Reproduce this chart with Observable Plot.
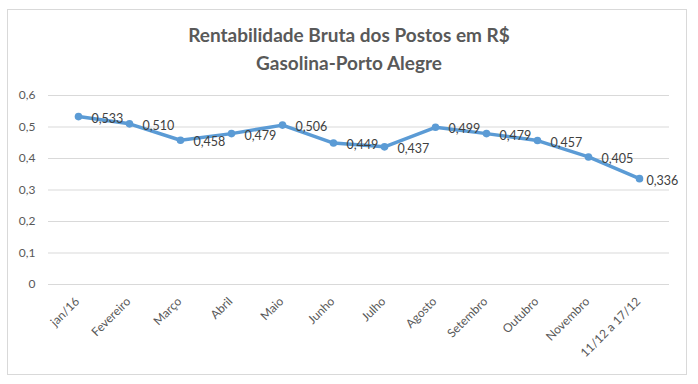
<!DOCTYPE html>
<html>
<head>
<meta charset="utf-8">
<script src="https://cdn.jsdelivr.net/npm/d3@7"></script>
<script src="https://cdn.jsdelivr.net/npm/@observablehq/plot@0.6"></script>
<style>
  html, body { margin: 0; padding: 0; background: #fff; }
  #wrap { position: relative; width: 698px; height: 384px; overflow: hidden; font-family: Lato, sans-serif; }
  #chart { position: absolute; left: 0; top: 0; }
  #title { position: absolute; left: 0; top: 21px; width: 698px; text-align: center; font: bold 19px/28px Lato, sans-serif; color: #595959; }
  #border { position: absolute; left: 7px; top: 9px; width: 680px; height: 366px; box-sizing: border-box; border: 1px solid #d9d9d9; pointer-events: none; }
</style>
</head>
<body>
<div id="wrap">
  <div id="chart"></div>
  <div id="title">Rentabilidade Bruta dos Postos em R$<br>Gasolina-Porto Alegre</div>
  <div id="border"></div>
</div>
<script>
const categories = ["jan/16", "Fevereiro", "Março", "Abril", "Maio", "Junho", "Julho", "Agosto", "Setembro", "Outubro", "Novembro", "11/12 a 17/12"];
const values = [0.533, 0.510, 0.458, 0.479, 0.506, 0.449, 0.437, 0.499, 0.479, 0.457, 0.405, 0.336];
const yTicks = [0, 0.1, 0.2, 0.3, 0.4, 0.5, 0.6];

const data = categories.map((c, i) => ({cat: c, v: values[i], i}));
const lastIndex = data.length - 1;
const comma = s => s.replace(".", ",");
const fmtVal = d => comma(d3.format(".3f")(d));
const fmtTick = d => comma(String(+d.toFixed(1)));

const blue = "#5B9BD5";

const plot = Plot.plot({
  width: 698,
  height: 384,
  marginLeft: 48,
  marginRight: 29,
  marginTop: 95,
  marginBottom: 100,
  style: {fontFamily: "Lato, sans-serif", fontSize: "12px", background: "transparent"},
  x: {type: "point", domain: categories, padding: 0.5, label: null},
  y: {domain: [0, 0.6], label: null},
  marks: [
    Plot.ruleY(yTicks, {stroke: "#d9d9d9", strokeWidth: 1}),
    Plot.axisY({ticks: yTicks, tickSize: 0, tickPadding: 13, tickFormat: fmtTick, fill: "#595959", fontSize: 12, label: null}),
    Plot.axisX({tickRotate: -45, tickSize: 0, tickPadding: 15, dx: -1, fill: "#595959", fontSize: 12, label: null}),
    Plot.line(data, {x: "cat", y: "v", stroke: blue, strokeWidth: 3.5, strokeLinejoin: "round", strokeLinecap: "round"}),
    Plot.dot(data, {x: "cat", y: "v", r: 3.8, fill: blue, stroke: "none"}),
    Plot.text(data, {filter: d => d.i < lastIndex, x: "cat", y: "v", text: d => fmtVal(d.v), dx: 13, dy: 2, textAnchor: "start", fill: "#404040", fontSize: 12.5}),
    Plot.text(data, {filter: d => d.i === lastIndex, x: "cat", y: "v", text: d => fmtVal(d.v), dx: 7, dy: 2, textAnchor: "start", fill: "#404040", fontSize: 12.5})
  ]
});
document.getElementById("chart").appendChild(plot);
</script>
</body>
</html>
